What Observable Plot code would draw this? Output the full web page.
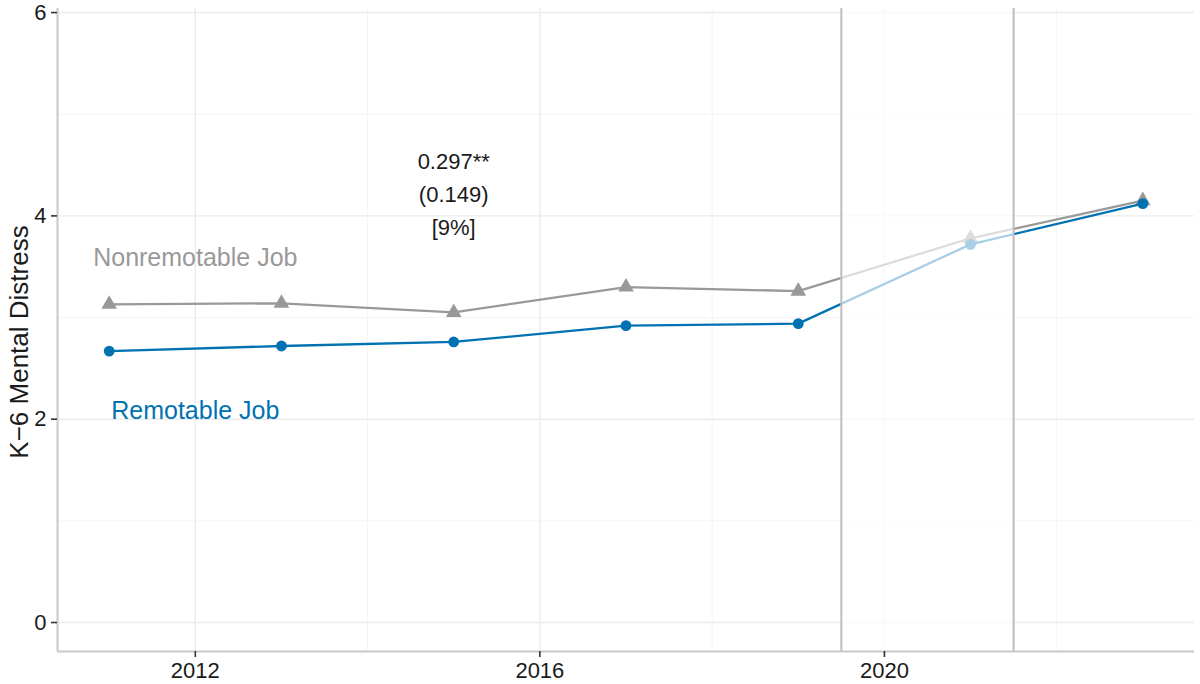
<!DOCTYPE html>
<html>
<head>
<meta charset="utf-8">
<script src="https://cdn.jsdelivr.net/npm/d3@7"></script>
<script src="https://cdn.jsdelivr.net/npm/@observablehq/plot@0.6"></script>
<style>
  html, body { margin: 0; padding: 0; background: #fff; }
  #chart svg { display: block; }
</style>
</head>
<body>
<div id="chart"></div>
<script>
// ---- data ----
const years = [2011, 2013, 2015, 2017, 2019, 2021, 2023];
const nonremotable = [3.13, 3.14, 3.05, 3.30, 3.26, 3.78, 4.15];
const remotable = [2.67, 2.72, 2.76, 2.92, 2.94, 3.72, 4.12];
const xMajorTicks = [2012, 2016, 2020];
const xMinorTicks = [2014, 2018, 2022];
const yMajorTicks = [0, 2, 4, 6];
const yMinorTicks = [1, 3, 5];
const pandemicBounds = [2019.5, 2021.5];
const seriesLabels = [
  {name: "Nonremotable Job", year: 2012, value: 3.59},
  {name: "Remotable Job", year: 2012, value: 2.085}
];
const estimate = {year: 2015, value: 4.24, text: "0.297**\n(0.149)\n[9%]"};
const yTitle = "K\u22126 Mental Distress";

const GRAY = "#999999";
const BLUE = "#0072B2";
const FONT = "'Liberation Sans', Arial, Helvetica, sans-serif";

const nonData = years.map((y, i) => ({year: y, value: nonremotable[i]}));
const remData = years.map((y, i) => ({year: y, value: remotable[i]}));

const chart = Plot.plot({
  width: 1200,
  height: 684,
  marginLeft: 57,
  marginRight: 6,
  marginTop: 8,
  marginBottom: 33,
  style: {fontFamily: FONT, background: "#fff", color: "#1a1a1a"},
  x: {domain: [2010.4, 2023.6]},
  y: {domain: [-0.285, 6.04]},
  marks: [
    // minor grid
    Plot.ruleY(yMinorTicks, {stroke: "#f4f4f4", strokeWidth: 1}),
    Plot.ruleX(xMinorTicks, {stroke: "#f4f4f4", strokeWidth: 1}),
    // major grid
    Plot.ruleY(yMajorTicks, {stroke: "#ebebeb", strokeWidth: 1.4}),
    Plot.ruleX(xMajorTicks, {stroke: "#ebebeb", strokeWidth: 1.4}),
    // series
    Plot.line(nonData, {x: "year", y: "value", stroke: GRAY, strokeWidth: 2.3}),
    Plot.dot(nonData, {x: "year", y: "value", symbol: "triangle", r: 5.8, fill: GRAY, stroke: "none"}),
    Plot.line(remData, {x: "year", y: "value", stroke: BLUE, strokeWidth: 2.3}),
    Plot.dot(remData, {x: "year", y: "value", symbol: "circle", r: 5.4, fill: BLUE, stroke: "none"}),
    // fading over the pandemic window
    Plot.rect([pandemicBounds], {x1: d => d[0], x2: d => d[1], fill: "white", fillOpacity: 0.66}),
    Plot.ruleX(pandemicBounds, {stroke: "#bdbdbd", strokeWidth: 2}),
    // axis lines
    Plot.ruleX([2010.4], {stroke: "#c8c8c8", strokeWidth: 2}),
    Plot.ruleY([-0.285], {stroke: "#c8c8c8", strokeWidth: 2}),
    // axes
    Plot.axisX({ticks: xMajorTicks, tickFormat: d => String(d), tickSize: 6, tickPadding: 5, fontSize: 22, stroke: "#333", strokeWidth: 1.6, label: null}),
    Plot.axisY({ticks: yMajorTicks, tickFormat: d => String(d), tickSize: 6, tickPadding: 5, fontSize: 22, stroke: "#333", strokeWidth: 1.6, label: null}),
    // y title
    Plot.text([yTitle], {text: d => d, frameAnchor: "left", textAnchor: "middle", dx: -38, dy: 12, rotate: -90, fontSize: 26, fill: "#1a1a1a"}),
    // series labels
    Plot.text(seriesLabels, {x: "year", y: "value", text: "name", fontSize: 25, fill: (d) => d.name === "Remotable Job" ? BLUE : GRAY}),
    // estimate annotation
    Plot.text([estimate], {x: "year", y: "value", text: "text", fontSize: 22, lineHeight: 1.5, fill: "#1a1a1a"})
  ]
});
document.getElementById("chart").appendChild(chart);
</script>
</body>
</html>
